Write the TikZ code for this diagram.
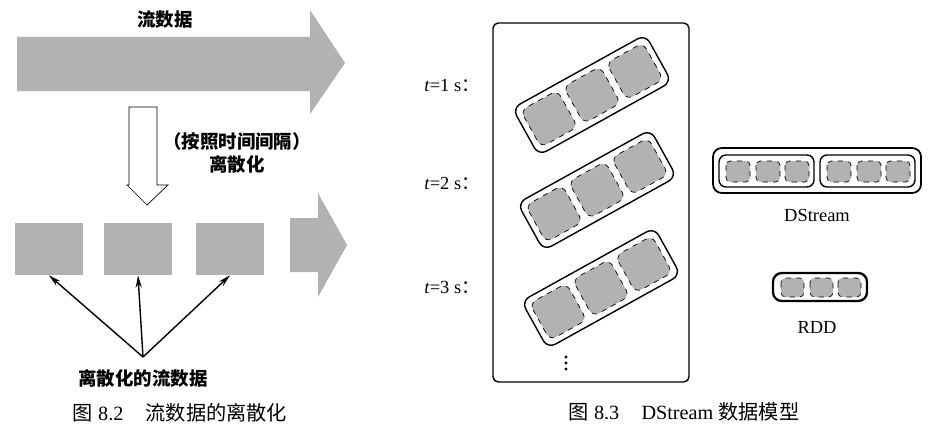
\documentclass[tikz,border=0pt]{standalone}
\usepackage{fontspec}
\setmainfont{Liberation Serif}
\newfontfamily\cjk{Noto Sans CJK SC}
\usetikzlibrary{arrows.meta}

\begin{document}
\begin{tikzpicture}[x=0.02cm, y=-0.02cm,
  txt/.style={inner sep=1pt, font=\fontsize{10.5}{13}\selectfont},
  bold/.style={txt, font=\fontsize{10.5}{13}\selectfont\cjk\bfseries},
  block/.style={fill=black!30, draw=none, minimum width=1.38cm, minimum height=1.04cm, inner sep=0pt},
  cell/.style={draw, dashed, fill=black!30, rounded corners=4pt},
  smallcell/.style={draw, dashed, fill=black!30, rounded corners=2.5pt},
  batch/.style={draw, thick, rounded corners=5pt}]
\useasboundingbox (0,0) rectangle (935,439);

% stream before discretisation
\fill [black!30]
     (17,37) -- (310,37) -- (310,10) -- (345,63)
  -- (310,114) -- (310,91) -- (17,91) -- cycle;
\node [bold] (strm) at (165,20) {流数据};

\draw [fill=white]
     (129,107) -- (157,107) -- (157,185) -- (168,185)
  -- (147,205) -- (127,185) -- (129,185) -- cycle;
\node [bold, align=center] (disc) at (237,153) {（按照时间间隔）\\离散化};

%%%%%%%%%%%%%%%%%%%%%%%%%%%%%%%%%%%%%%%%

\node [block] (sq1) at (49,249) {};
\node [block] (sq2) at (138,249) {};
\node [block] (sq3) at (230,249) {};
\fill [black!30]
     (290,218) -- (318,218) -- (318,193) -- (347,245)
  -- (318,297) -- (318,272) -- (290,272) -- cycle;

\node [bold] (lbl) at (143,378) {离散化的流数据};
\path (143,357) coordinate (src);
\foreach \s in {sq1, sq2, sq3}
  \draw [-{Stealth[length=7pt, width=3.5pt]}, thick] (src) -- (\s.south);

\node [txt, font=\fontsize{11.5}{13}\selectfont] (cap1) at (180,413)
  {{\cjk 图} 8.2\hspace{1.1em}{\cjk 流数据的离散化}};

%%%%%%%%%%%%%%%%%%%%%%%%%%%%%%%%%%%%%%%%

% DStream as a series of RDDs
\draw [thick, rounded corners=3pt] (493,23) rectangle (689,382);
\foreach \cx/\cy in {592/95, 597/190, 601/288} {
  \begin{scope}[shift={(\cx,\cy)}, rotate=29]
    \draw [batch] (-76,-27) rectangle (76,27);
    \foreach \d in {-49, 0, 49}
      \draw [cell] (\d-21,-21) rectangle (\d+21,21);
  \end{scope}
}
\node [txt] (t1) at (452,86) {\textit{t}=1 s{\cjk ：}};
\node [txt] (t2) at (452,183) {\textit{t}=2 s{\cjk ：}};
\node [txt] (t3) at (452,287) {\textit{t}=3 s{\cjk ：}};
\foreach \y in {357, 363, 369}
  \fill (566,\y) circle (1.6);

\draw [batch, line width=1pt] (713,148) rectangle (921,193);
\draw [thick, rounded corners=4pt] (719,155) rectangle (814,187);
\draw [thick, rounded corners=4pt] (820,155) rectangle (915,187);
\foreach \x in {726, 756, 785, 827, 857, 886}
  \draw [smallcell] (\x,161) rectangle ++(24,21);
\node [txt] (ds) at (817,215) {DStream};

\draw [batch, line width=1.3pt] (773,273) rectangle (867,301);
\foreach \x in {781, 810, 838}
  \draw [smallcell] (\x,278) rectangle ++(23,19);
\node [txt] (rdd) at (817,327) {RDD};

\node [txt, font=\fontsize{11.5}{13}\selectfont] (cap2) at (684,412)
  {{\cjk 图} 8.3\hspace{1.1em}DStream {\cjk 数据模型}};
\end{tikzpicture}
\end{document}
